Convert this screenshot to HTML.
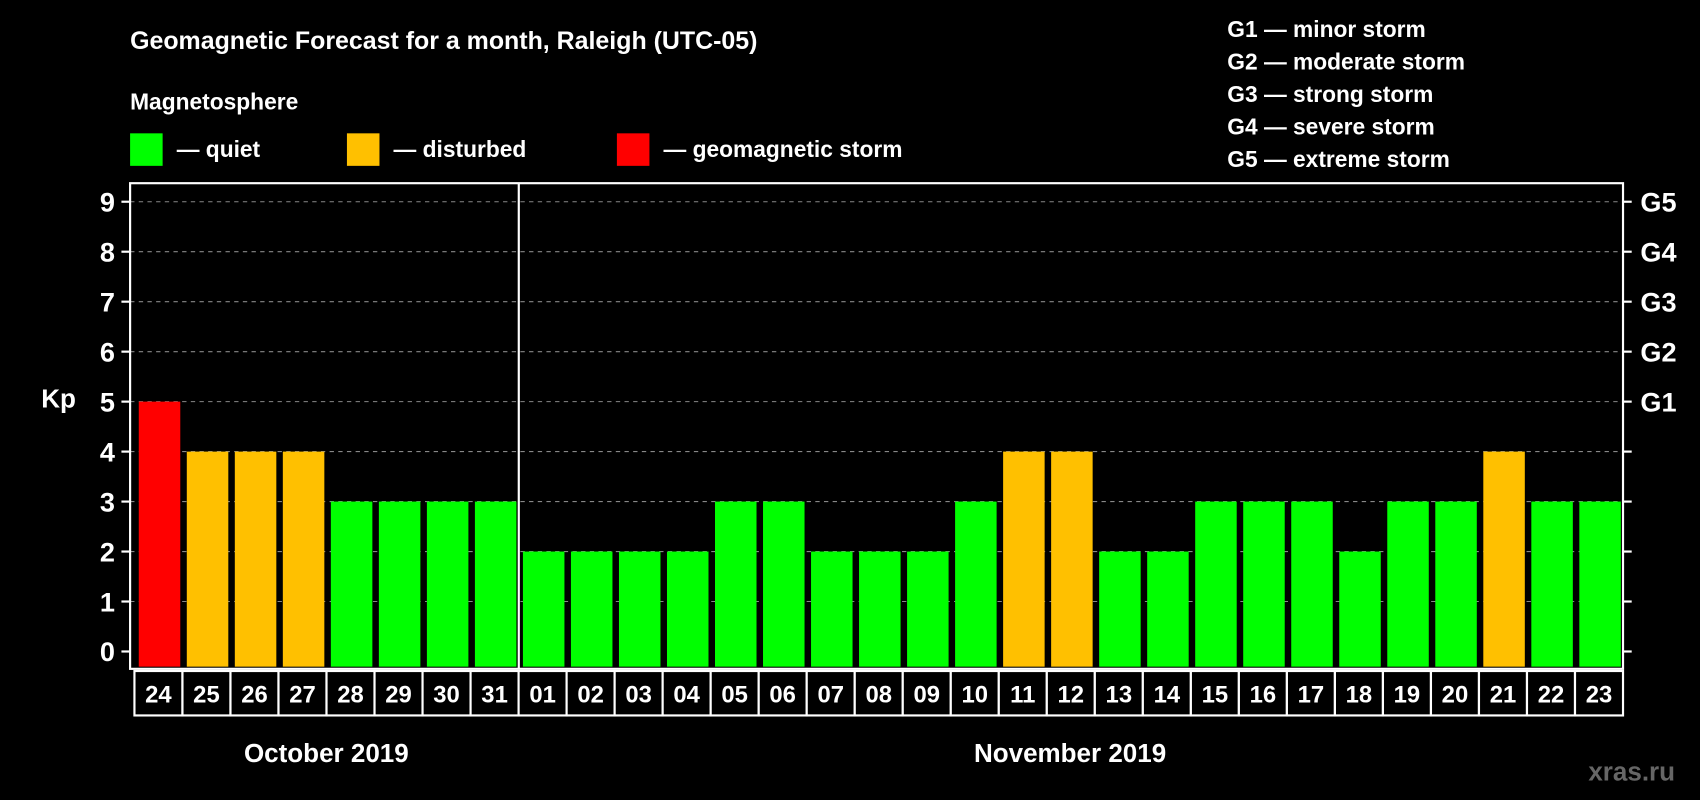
<!DOCTYPE html>
<html><head><meta charset="utf-8"><style>
html,body{margin:0;padding:0;background:#000;}
svg{display:block;font-family:"Liberation Sans",Arial,sans-serif;font-weight:bold;}
</style></head><body>
<svg id="chart" width="1700" height="800" viewBox="0 0 1568 738" preserveAspectRatio="none" xmlns="http://www.w3.org/2000/svg">
<rect width="1568" height="738" fill="#000"/>
<text x="120" y="45" fill="#fff" font-size="23">Geomagnetic Forecast for a month, Raleigh (UTC-05)</text>
<text x="120" y="101" fill="#fff" font-size="21">Magnetosphere</text>
<g><rect x="120" y="123" width="30" height="30" fill="#00ff00"/><text x="163" y="145" fill="#fff" font-size="21">— quiet</text></g>
<g><rect x="320" y="123" width="30" height="30" fill="#ffc000"/><text x="363" y="145" fill="#fff" font-size="21">— disturbed</text></g>
<g><rect x="569" y="123" width="30" height="30" fill="#ff0000"/><text x="612" y="145" fill="#fff" font-size="21">— geomagnetic storm</text></g>
<g fill="#fff" font-size="21">
<text x="1132" y="34">G1 — minor storm</text>
<text x="1132" y="64">G2 — moderate storm</text>
<text x="1132" y="94">G3 — strong storm</text>
<text x="1132" y="124">G4 — severe storm</text>
<text x="1132" y="154">G5 — extreme storm</text>
</g>
<g id="grid"></g>
<g id="bars"></g>
<rect x="120" y="169" width="1377" height="448" fill="none" stroke="#fff" stroke-width="2"/>
<line x1="478.5" y1="169" x2="478.5" y2="617" stroke="#fff" stroke-width="2"/>
<g id="axes"></g>
<g id="labels"></g>
<text x="38" y="376" fill="#fff" font-size="24">Kp</text>
<text x="301" y="703" fill="#fff" font-size="24" text-anchor="middle">October 2019</text>
<text x="987" y="703" fill="#fff" font-size="24" text-anchor="middle">November 2019</text>
<text x="1545" y="720" fill="#666" font-size="24" text-anchor="end">xras.ru</text>
</svg>
<script>
const days = ["24","25","26","27","28","29","30","31","01","02","03","04","05","06","07","08","09","10","11","12","13","14","15","16","17","18","19","20","21","22","23"];
const kpValues = [5,4,4,4,3,3,3,3,2,2,2,2,3,3,2,2,2,3,4,4,2,2,3,3,3,2,3,3,4,3,3];
const yTicks = [0,1,2,3,4,5,6,7,8,9];
const gLabels = ["G1","G2","G3","G4","G5"];
const gLevels = [5,6,7,8,9];

const NS = "http://www.w3.org/2000/svg";
const X0 = 120, X1 = 1497, Y0 = 601, PER = 46.1;
const pitch = (X1 - X0 - 4) / days.length;
const yS = v => Y0 - v * PER;
const xS = i => X0 + 4 + i * pitch;
function mk(tag, attrs, parent, txt) {
  const e = document.createElementNS(NS, tag);
  for (const k in attrs) e.setAttribute(k, attrs[k]);
  if (txt !== undefined) e.textContent = txt;
  parent.appendChild(e);
  return e;
}
const grid = document.getElementById('grid');
const bars = document.getElementById('bars');
const axes = document.getElementById('axes');
const labels = document.getElementById('labels');
yTicks.forEach(v => {
  const y = yS(v);
  if (v > 0) {
    const g = mk('line', {x1: X0, x2: X1, y1: y, y2: y, stroke: '#888', 'stroke-dasharray': '4,4', 'stroke-width': 1}, grid);
    
    
  }
  const t1 = mk('line', {x1: X0 - 8, x2: X0, y1: y, y2: y, stroke: '#fff', 'stroke-width': 2}, axes);
  
  
  const t2 = mk('line', {x1: X1, x2: X1 + 8, y1: y, y2: y, stroke: '#fff', 'stroke-width': 2}, axes);
  
  
  const lb = mk('text', {x: 106, y: y + 9, fill: '#fff', 'font-size': 25, 'text-anchor': 'end'}, axes, String(v));
  
  
});
gLabels.forEach((g, i) => {
  const t = mk('text', {x: 1513, y: yS(gLevels[i]) + 9, fill: '#fff', 'font-size': 25}, axes, g);
  
  
});
kpValues.forEach((v, i) => {
  const col = v >= 5 ? '#ff0000' : (v >= 4 ? '#ffc000' : '#00ff00');
  const x = xS(i) + 4;
  const r = mk('rect', {x: x, y: yS(v), width: pitch - 6, height: 615 - yS(v), fill: col}, bars);
  
  
  const b = mk('rect', {x: xS(i), y: 619, width: pitch, height: 41, fill: '#000', stroke: '#fff', 'stroke-width': 2}, labels);
  
  
  const t = mk('text', {x: xS(i) + pitch / 2, y: 648, fill: '#fff', 'font-size': 22, 'text-anchor': 'middle'}, labels, days[i]);
  
  
});
</script>
</body></html>
